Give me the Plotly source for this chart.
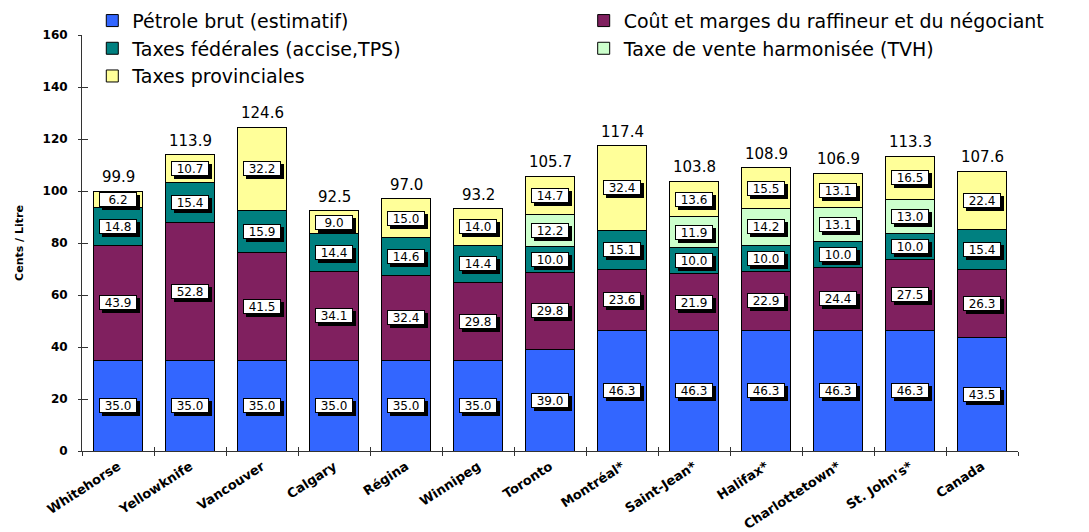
import plotly.graph_objects as go

categories = ["Whitehorse", "Yellowknife", "Vancouver", "Calgary", "Régina", "Winnipeg",
              "Toronto", "Montréal*", "Saint-Jean*", "Halifax*", "Charlottetown*", "St. John's*", "Canada"]

petrole_brut = [35.0, 35.0, 35.0, 35.0, 35.0, 35.0, 39.0, 46.3, 46.3, 46.3, 46.3, 46.3, 43.5]
cout_marges = [43.9, 52.8, 41.5, 34.1, 32.4, 29.8, 29.8, 23.6, 21.9, 22.9, 24.4, 27.5, 26.3]
taxes_federales = [14.8, 15.4, 15.9, 14.4, 14.6, 14.4, 10.0, 15.1, 10.0, 10.0, 10.0, 10.0, 15.4]
tvh = [None, None, None, None, None, None, 12.2, None, 11.9, 14.2, 13.1, 13.0, None]
taxes_provinciales = [6.2, 10.7, 32.2, 9.0, 15.0, 14.0, 14.7, 32.4, 13.6, 15.5, 13.1, 16.5, 22.4]
totals = [99.9, 113.9, 124.6, 92.5, 97.0, 93.2, 105.7, 117.4, 103.8, 108.9, 106.9, 113.3, 107.6]

series = [
    ("Pétrole brut (estimatif)", petrole_brut, "#3366FF", "legend"),
    ("Coût et marges du raffineur et du négociant", cout_marges, "#80205F", "legend2"),
    ("Taxes fédérales (accise,TPS)", taxes_federales, "#008080", "legend"),
    ("Taxe de vente harmonisée (TVH)", tvh, "#CCFFCC", "legend2"),
    ("Taxes provinciales", taxes_provinciales, "#FFFF99", "legend"),
]

FONT = "DejaVu Sans, Liberation Sans, Arial, sans-serif"

fig = go.Figure()
for name, vals, color, leg in series:
    fig.add_trace(go.Bar(
        x=categories, y=[v if v is not None else 0 for v in vals], name=name,
        marker=dict(color=color, line=dict(color="black", width=1)),
        legend=leg, hoverinfo="skip",
    ))

# invisible trace for the overlay axes (crossing ticks)
fig.add_trace(go.Scatter(x=categories, y=totals, mode="markers", marker=dict(opacity=0),
                         xaxis="x2", yaxis="y2", showlegend=False, hoverinfo="skip"))

annotations = []
base = [0.0] * len(categories)
for name, vals, color, leg in series:
    for i, v in enumerate(vals):
        if v is None:
            continue
        mid = base[i] + v / 2
        txt = f"{v:.1f}"
        # drop shadow box (no text)
        annotations.append(dict(x=categories[i], y=mid, xref="x", yref="y", text="&nbsp;",
                                showarrow=False, font=dict(family=FONT, size=12, color="black"),
                                bgcolor="black", bordercolor="black", borderwidth=1, borderpad=1,
                                width=34, height=11, xshift=3, yshift=-3))
        annotations.append(dict(x=categories[i], y=mid, xref="x", yref="y", text=txt,
                                showarrow=False, font=dict(family=FONT, size=12, color="black"),
                                bgcolor="white", bordercolor="black", borderwidth=1, borderpad=1,
                                width=34, height=11))
        base[i] += v

for i, t in enumerate(totals):
    annotations.append(dict(x=categories[i], y=t, xref="x", yref="y", text=f"{t:.1f}",
                            showarrow=False, yanchor="bottom", yshift=3,
                            font=dict(family=FONT, size=15, color="black")))

legend_style = dict(orientation="v", yanchor="top", xanchor="left", traceorder="normal",
                    font=dict(family=FONT, size=19), bgcolor="rgba(0,0,0,0)", tracegroupgap=0)

fig.update_layout(
    width=1089, height=532,
    margin=dict(l=82, r=71, t=35, b=81, autoexpand=False),
    paper_bgcolor="white", plot_bgcolor="white",
    barmode="stack", bargap=0.333,
    font=dict(family=FONT, color="black"),
    showlegend=True,
    legend=dict(x=0.011, y=1.08, **legend_style),
    legend2=dict(x=0.536, y=1.08, **legend_style),
    xaxis=dict(range=[-0.5, 12.5], showline=True, linecolor="#333333", linewidth=1,
               ticks="outside", ticklen=4, tickcolor="#333333", tickson="boundaries",
               tickangle=-33, ticklabelstandoff=2,
               tickfont=dict(family=FONT, size=13, color="black", weight="bold"),
               showgrid=False, zeroline=False, categoryorder="array", categoryarray=categories),
    xaxis2=dict(range=[-0.5, 12.5], overlaying="x", anchor="y2", ticks="inside", ticklen=4,
                tickcolor="#333333", tickson="boundaries", showticklabels=False, showline=False,
                showgrid=False, zeroline=False, categoryorder="array", categoryarray=categories),
    yaxis=dict(range=[0, 160], dtick=20, showline=True, linecolor="#333333", linewidth=1,
               ticks="outside", ticklen=3, tickcolor="#333333", showgrid=False, zeroline=False,
               tickfont=dict(family=FONT, size=12, color="black", weight="bold"),
               ticklabelstandoff=8,
               title=dict(text="<b>Cents / Litre</b>", font=dict(family=FONT, size=11), standoff=16)),
    yaxis2=dict(range=[0, 160], dtick=20, overlaying="y", anchor="x2", side="left", ticks="inside",
                ticklen=6, tickcolor="#333333", showticklabels=False, showline=False,
                showgrid=False, zeroline=False),
    annotations=annotations,
)

fig.write_html("out.html", config={"displayModeBar": False},
               post_script="document.body.style.margin='0px';")
